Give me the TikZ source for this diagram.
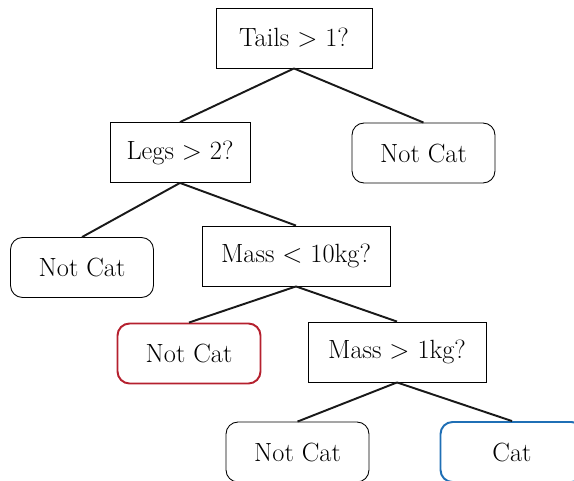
\documentclass[tikz,border=0pt]{standalone}
\usepackage{xcolor}
\usepackage{tikz}
\definecolor{leafred}{HTML}{B5202E}
\definecolor{leafblue}{HTML}{1F6FB5}
\tikzset{
  test/.style={draw, line width=0.5pt, minimum height=1.2cm, inner sep=0pt, font=\fontsize{15}{18}\selectfont},
  leaf/.style={draw, line width=0.5pt, rounded corners=0.24cm, minimum width=2.86cm, minimum height=1.2cm, inner sep=0pt, font=\fontsize{15}{18}\selectfont},
  branch/.style={line width=1.1pt, black!90}
}

\begin{document}
\begin{tikzpicture}[x=0.02cm,y=-0.02cm]
\useasboundingbox (0,0) rectangle (574,480);
% tests
\node[test, minimum width=3.12cm] (tails) at (294,38) {Tails > 1?};
\node[test, minimum width=2.8cm] (legs) at (180,152.5) {Legs > 2?};
\node[test, minimum width=3.76cm] (massten) at (296,256) {Mass < 10kg?};
\node[test, minimum width=3.56cm] (massone) at (397,352) {Mass > 1kg?};
% leaves
\node[leaf] (notcatA) at (423.5,153) {Not Cat};
\node[leaf] (notcatB) at (82,267.5) {Not Cat};
\node[leaf, draw=leafred, line width=1.1pt] (notcatC) at (189,353.5) {Not Cat};
\node[leaf] (notcatD) at (297.5,452) {Not Cat};
\node[leaf, draw=leafblue, line width=1.1pt] (cat) at (512,452) {Cat};
% branches
\draw[branch] (tails.south) -- (legs.north);
\draw[branch] (tails.south) -- (notcatA.north);
\draw[branch] (legs.south) -- (notcatB.north);
\draw[branch] (legs.south) -- (massten.north);
\draw[branch] (massten.south) -- (notcatC.north);
\draw[branch] (massten.south) -- (massone.north);
\draw[branch] (massone.south) -- (notcatD.north);
\draw[branch] (massone.south) -- (cat.north);
\end{tikzpicture}
\end{document}
